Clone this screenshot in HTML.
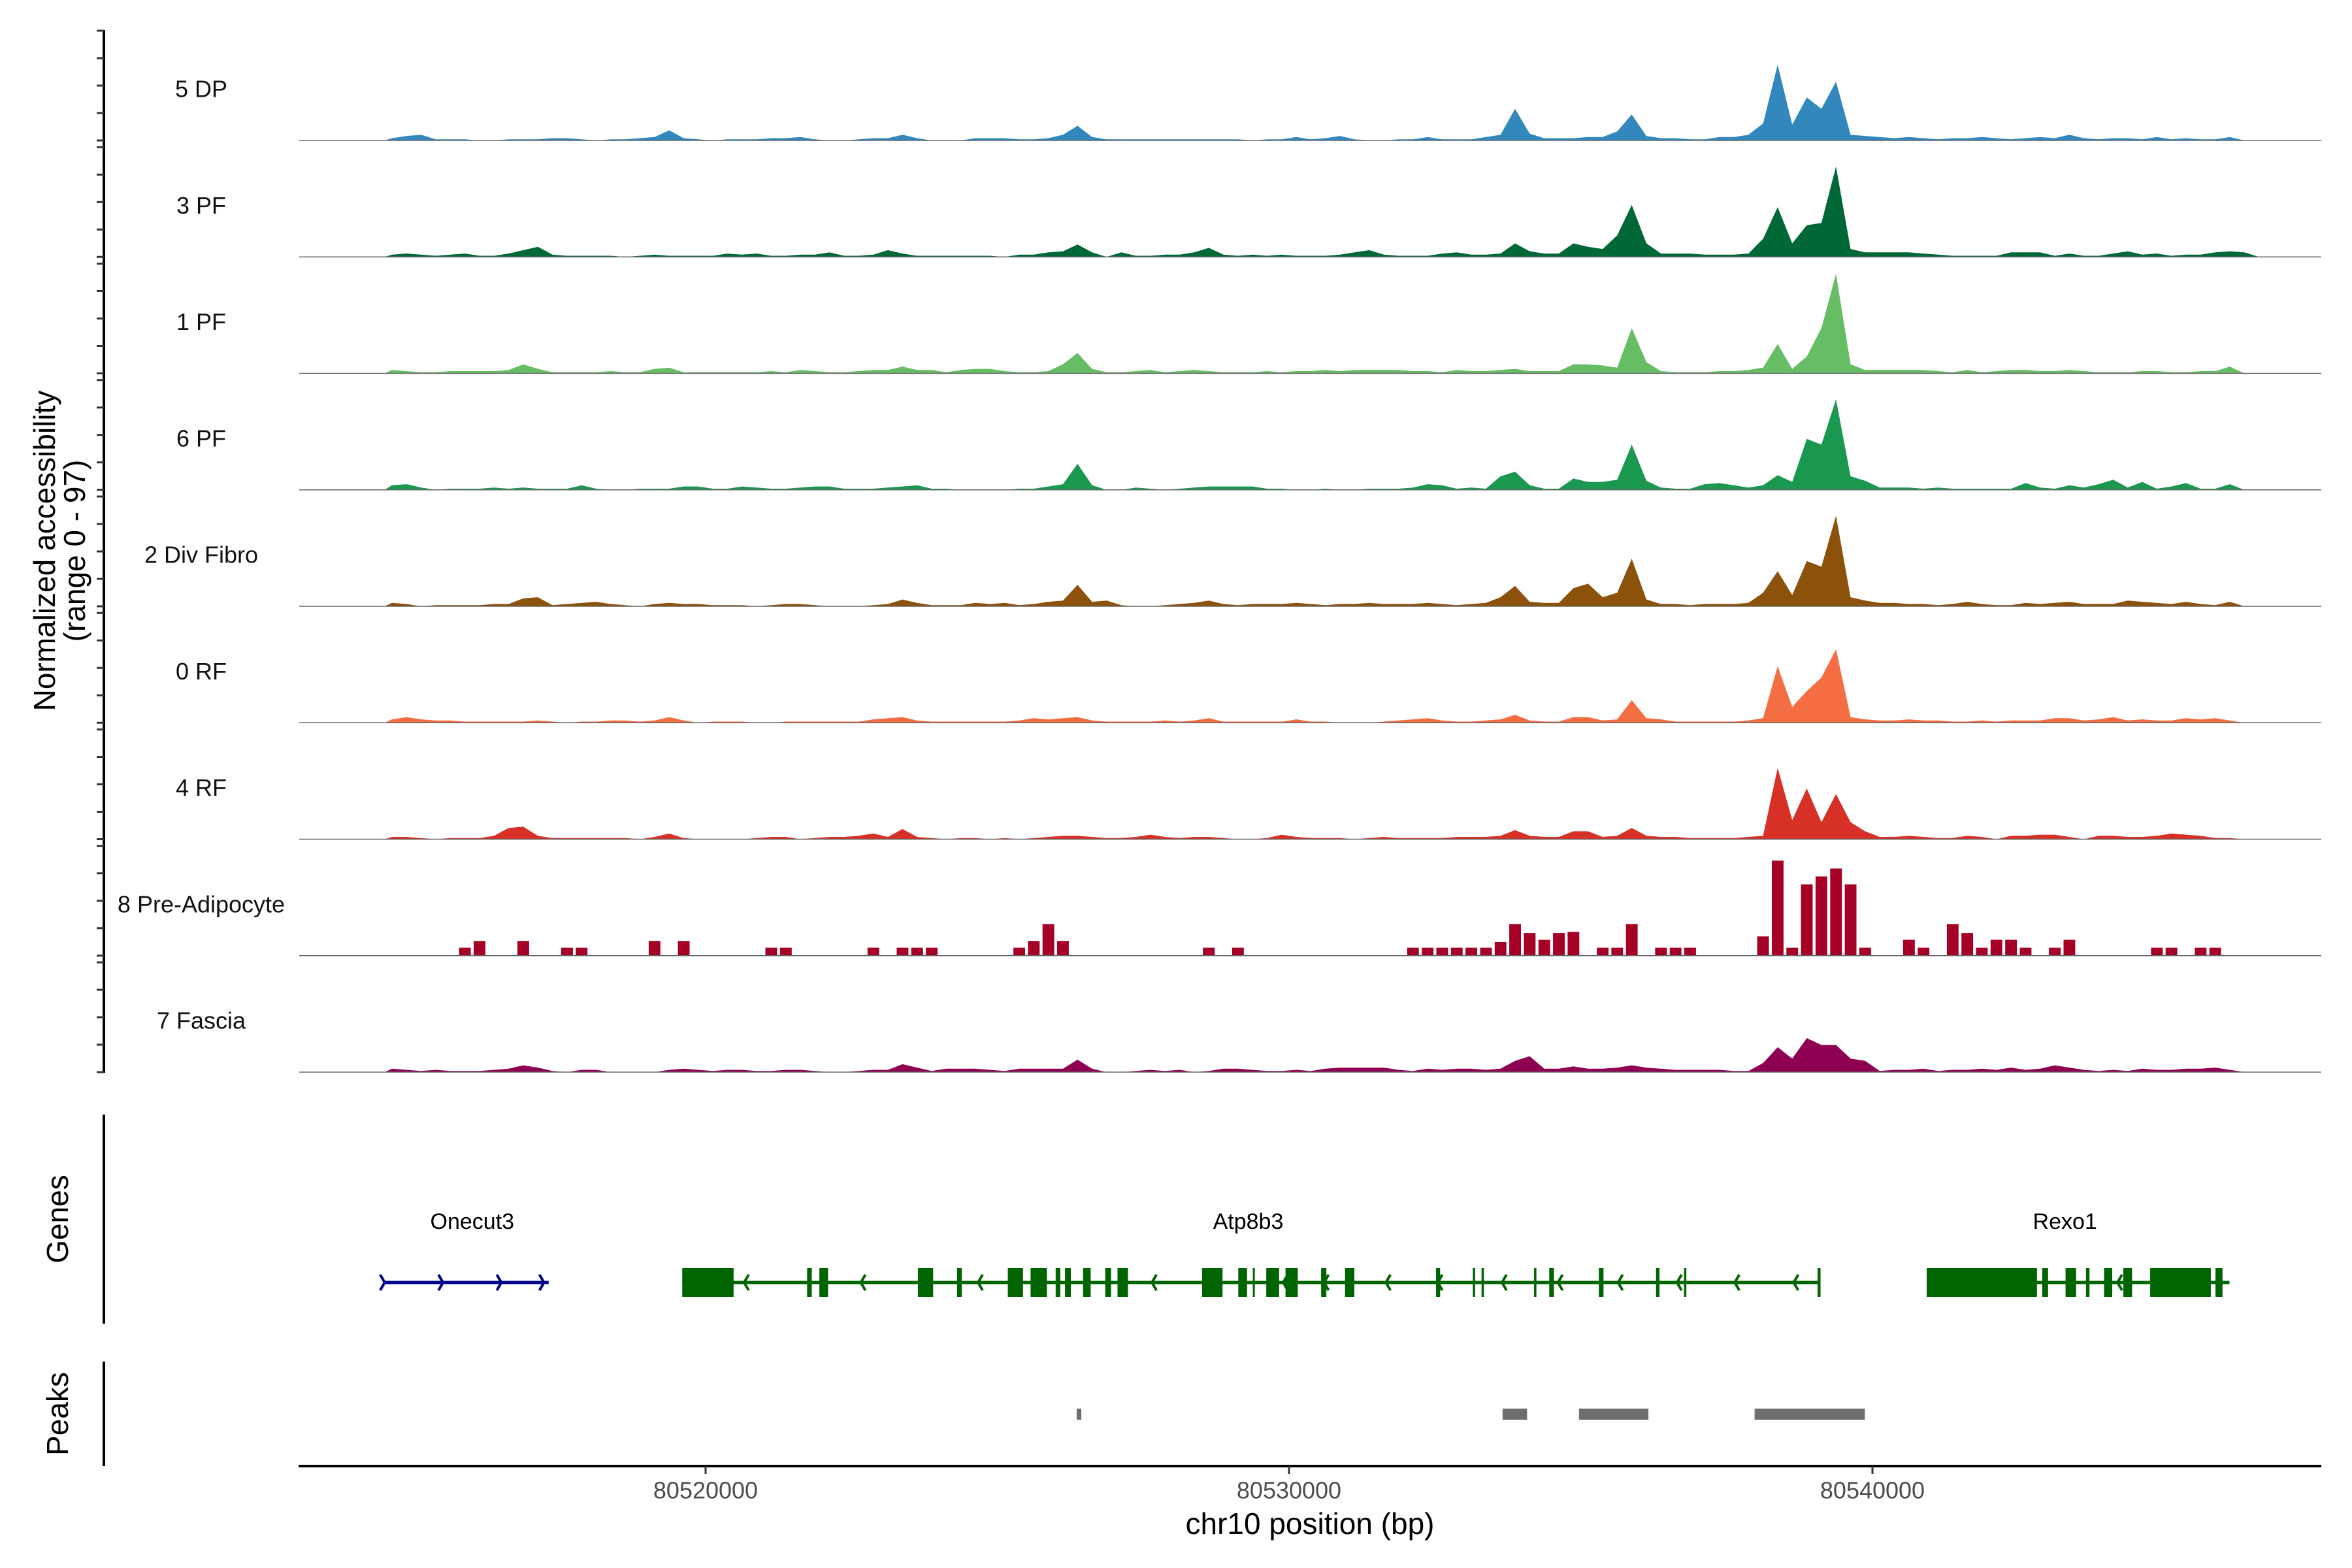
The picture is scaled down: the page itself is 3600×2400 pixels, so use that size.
<!DOCTYPE html>
<html><head><meta charset="utf-8"><style>
html,body{margin:0;padding:0;background:#fff;}
svg{display:block;font-family:"Liberation Sans",Arial,sans-serif;}
</style></head><body>
<svg id="chart" width="3600" height="2400" viewBox="0 0 3600 2400" xmlns="http://www.w3.org/2000/svg">
<rect width="3600" height="2400" fill="#fff"/>
<g id="tracks"></g>
<g id="genes"></g>
<g id="peaks"></g>
<g id="axes"></g>
</svg>
<script>
// ---- data (bins of 250 bp starting at 80514500) ----
const binStartKb = 14.5;
const binKb = 0.25;
const trackNames = ["5 DP","3 PF","1 PF","6 PF","2 Div Fibro","0 RF","4 RF","8 Pre-Adipocyte","7 Fascia"];
const trackColors = ["#3288bd","#006837","#66bd63","#1a9850","#8c510a","#f46d43","#d73027","#a50026","#8e0152"];
const dp5 = [2,4,5,1,1,1,0,0,1,1,1,2,2,1,0,1,1,2,3,9,2,1,0,1,1,1,2,2,3,1,0,0,1,2,2,5,2,0,0,0,2,2,2,1,1,2,5,13,3,1,1,1,1,1,1,1,1,1,1,0,1,1,3,1,2,4,1,0,0,1,1,3,1,1,
 1,3,5,28,6,2,2,2,3,3,8,23,4,2,2,1,1,3,3,5,15,67,14,38,28,52,5,4,3,
 2,3,2,1,2,2,3,2,1,2,3,2,5,2,1,2,2,1,3,1,2,1,1,3,0];
const pf3 = [2,3,2,1,2,3,1,1,3,6,9,2,1,1,1,1,0,1,2,1,1,1,1,3,2,3,1,1,2,2,4,1,1,2,6,3,1,1,1,1,1,1,0,2,2,4,5,11,4,0,4,1,1,2,2,4,8,2,1,2,1,2,1,1,1,2,4,6,2,1,1,1,3,4,
 2,2,3,12,5,3,3,12,9,7,19,46,12,3,3,3,2,2,2,3,16,44,12,28,30,80,7,4,4,
 4,4,3,2,1,1,1,1,4,4,4,1,3,1,1,3,5,2,3,1,2,2,4,5,4,0];
const pf1 = [3,2,1,1,2,2,2,2,3,8,4,1,1,1,1,2,1,1,4,5,1,1,1,1,1,1,2,1,3,2,1,1,2,3,3,6,3,3,1,3,4,4,2,1,1,2,8,18,4,1,1,2,3,1,2,3,2,1,1,1,2,1,2,2,3,2,3,3,3,3,2,2,1,3,
 2,2,3,4,2,2,2,8,8,7,5,40,10,2,1,1,1,2,2,3,5,26,4,15,40,88,8,3,3,
 3,3,3,2,1,3,1,2,3,3,2,2,3,2,1,1,1,2,2,1,1,2,2,6,0];
const pf6 = [4,5,2,0,1,1,1,2,1,2,1,1,1,4,1,0,0,1,1,1,3,3,1,1,3,2,1,1,2,3,3,1,1,1,2,3,4,1,1,0,0,0,0,1,1,3,5,23,4,0,0,2,1,0,1,2,3,3,3,3,1,1,0,0,1,0,0,1,1,1,2,5,4,1,
 2,1,12,16,4,1,1,10,7,7,9,40,8,2,1,1,5,6,4,2,4,13,7,45,40,80,12,8,2,
 2,2,1,2,1,1,1,1,1,6,2,1,4,2,5,9,2,7,1,3,6,1,1,5,0];
const div2 = [3,2,0,1,1,1,1,2,2,7,8,1,2,3,4,2,1,0,2,3,2,2,1,1,1,0,1,2,2,1,0,0,0,1,2,6,3,1,1,1,3,2,3,1,2,4,5,19,4,5,1,0,0,1,2,3,5,2,1,2,2,2,3,2,1,2,2,3,2,2,2,3,2,1,
 2,3,8,18,4,3,3,16,20,8,12,42,6,2,2,1,2,2,2,3,12,31,10,40,35,80,8,5,3,
 3,2,2,1,2,4,2,1,1,3,2,3,4,2,2,2,5,4,3,2,4,2,1,4,0];
const rf0 = [3,5,3,2,2,1,1,1,1,1,2,1,0,1,1,2,2,1,2,5,2,0,1,1,1,0,0,1,1,1,1,1,1,3,4,5,2,1,1,1,1,1,1,2,4,3,4,5,2,1,1,1,1,2,1,2,4,1,1,1,1,1,3,1,1,0,0,0,1,2,3,4,2,1,
 1,2,3,7,2,1,1,5,5,2,3,20,4,3,1,1,1,1,1,2,4,50,14,28,40,65,5,3,2,
 2,3,2,2,1,1,2,1,2,2,2,4,4,2,3,5,2,3,2,2,4,3,4,2,0];
const rf4 = [2,2,1,0,1,1,1,3,10,11,3,1,1,1,1,1,1,0,2,5,1,0,0,0,0,1,2,2,0,1,2,2,3,5,2,9,2,1,0,1,1,0,1,0,1,2,3,3,2,1,1,2,4,2,1,2,2,1,0,0,1,4,2,1,1,1,0,1,2,1,1,1,1,2,
 2,2,3,8,3,2,2,7,7,2,3,10,3,2,2,1,1,1,1,2,3,63,17,45,15,40,15,7,2,
 2,3,2,1,1,3,2,0,3,3,4,4,2,0,3,3,2,2,3,5,4,3,1,1,0];
const preAd8 = [0,0,0,0,0,7,13,0,0,13,0,0,7,7,0,0,0,0,13,0,13,0,0,0,0,0,7,7,0,0,0,0,0,7,0,7,7,7,0,0,0,0,0,7,13,28,13,0,0,0,0,0,0,0,0,0,7,0,7,0,0,0,0,0,0,0,0,0,0,0,7,7,7,7,
 7,7,12,28,20,14,20,21,0,7,7,28,0,7,7,7,0,0,0,0,17,84,7,63,70,77,63,7,0,
 0,14,7,0,28,20,7,14,14,7,0,7,14,0,0,0,0,0,7,7,0,7,7,0,0];
const fascia7 = [3,2,1,2,1,1,1,2,3,6,4,1,0,2,2,0,0,0,0,2,3,2,1,2,2,1,1,2,2,1,0,0,1,2,2,7,4,1,3,3,3,2,1,3,3,3,3,11,3,0,0,1,2,1,2,0,1,3,3,2,1,1,2,1,3,4,4,4,4,2,1,3,2,3,
 3,2,3,10,14,3,3,5,3,3,4,6,4,3,2,2,2,2,1,1,8,22,12,30,24,24,12,10,1,
 2,2,3,1,2,2,3,2,4,2,3,6,4,2,1,2,1,3,2,2,3,3,4,2,0];
const trackValues = [dp5,pf3,pf1,pf6,div2,rf0,rf4,preAd8,fascia7];
const xTickValues = [80520000,80530000,80540000];
const xTickLabels = ["80520000","80530000","80540000"];
// genes (kb offsets from 80500000)
const onecut3Span = [14.50,17.31];
const onecut3Arrows = [14.5,15.5,16.5,17.23];
const atp8b3Span = [19.60,39.11];
const atp8b3Exons = [[19.60,20.48],[21.74,21.82],[21.95,22.10],[23.64,23.90],[24.31,24.39],[25.18,25.44],[25.57,25.85],[26.00,26.08],[26.16,26.26],[26.47,26.60],[26.85,26.95],[27.06,27.24],[28.51,28.86],[29.13,29.28],[29.38,29.41],[29.61,29.83],[29.94,30.15],[30.55,30.64],[30.96,31.12],[32.52,32.59],[33.15,33.19],[33.30,33.34],[34.20,34.24],[34.46,34.54],[35.31,35.39],[36.29,36.35],[36.77,36.81],[39.06,39.11]];
const atp8b3Arrows = [20.66,22.66,24.67,27.65,28.7,29.9,30.6,31.66,32.55,33.65,34.61,35.64,36.65,37.64,38.65];
const rexo1Span = [40.93,46.12];
const rexo1Exons = [[40.93,42.82],[42.91,43.01],[43.31,43.49],[43.66,43.72],[43.97,44.11],[44.30,44.45],[44.76,45.80],[45.88,46.00]];
const peakRegions = [[26.36,26.44],[33.66,34.08],[34.97,36.16],[37.98,39.87]];

// ---- scales ----
const NS = "http://www.w3.org/2000/svg";
function xKb(kb){ return 1080 + (kb - 20) * 89.3; }
function xBp(bp){ return xKb((bp - 80500000) / 1000); }
function baseY(i){ return 215 + 178.25 * i; }
const pxPerUnit = 168 / 97;
function yVal(i, v){ return baseY(i) - v * pxPerUnit; }
function mk(tag, attrs, parent){ const e = document.createElementNS(NS, tag); for (const k in attrs) e.setAttribute(k, attrs[k]); parent.appendChild(e); return e; }

const gTracks = document.getElementById('tracks');
const gAxes = document.getElementById('axes');
const gGenes = document.getElementById('genes');
const gPeaks = document.getElementById('peaks');

let ax = mk('line', {x1:159, y1:46, x2:159, y2:1642, stroke:'#000', 'stroke-width':4}, gAxes);



trackValues.forEach((vals, i) => {
  const g = mk('g', {}, gTracks);
  
  
  const b = baseY(i);
  for (let k = 0; k <= 4; k++) {
    const t = mk('line', {x1:148, x2:159, y1:b - k * 42, y2:b - k * 42, stroke:'#333', 'stroke-width':3}, gAxes);
    
    
  }
  if (i === 7) {
    vals.forEach((v, j) => {
      if (v <= 0) return;
      const x0 = xKb(binStartKb + (j + 0.1) * binKb), x1 = xKb(binStartKb + (j + 0.9) * binKb);
      const r = mk('rect', {x:x0.toFixed(1), y:yVal(i, v).toFixed(1), width:(x1 - x0).toFixed(1), height:(v * pxPerUnit).toFixed(1), fill:trackColors[i]}, g);
      
      
    });
  } else {
    let d = 'M' + xKb(binStartKb) + ',' + b;
    vals.forEach((v, j) => {
      const xc = xKb(binStartKb + (j + 0.5) * binKb);
      d += ' L' + xc.toFixed(1) + ',' + yVal(i, v).toFixed(1);
    });
    d += ' L' + xKb(binStartKb + vals.length * binKb).toFixed(1) + ',' + b + ' Z';
    const p = mk('path', {d:d, fill:trackColors[i]}, g);
    
    
  }
  const bl = mk('line', {x1:458, x2:3553, y1:b, y2:b, stroke:'#666', 'stroke-width':1.6}, g);
  
  
  const lab = mk('text', {x:308, y:b - 79, 'font-size':36, 'text-anchor':'middle', 'dominant-baseline':'central', fill:'#111'}, g);
  lab.textContent = trackNames[i];
  
  
});

const yt = mk('text', {'font-size':46, 'text-anchor':'middle', fill:'#000'}, gAxes);


const yt1 = mk('tspan', {x:0, y:0}, yt); yt1.textContent = 'Normalized accessibility';
const yt2 = mk('tspan', {x:0, y:46}, yt); yt2.textContent = '(range 0 - 97)';
yt.setAttribute('transform', 'translate(84,843) rotate(-90)');

let ga = mk('line', {x1:159, x2:159, y1:1706, y2:2026, stroke:'#000', 'stroke-width':4}, gAxes);


let pa = mk('line', {x1:159, x2:159, y1:2084, y2:2244, stroke:'#000', 'stroke-width':4}, gAxes);


let gl = mk('text', {'font-size':46, 'text-anchor':'middle', transform:'translate(104,1866) rotate(-90)'}, gAxes);
gl.textContent = 'Genes';


let pl = mk('text', {'font-size':46, 'text-anchor':'middle', transform:'translate(104,2164) rotate(-90)'}, gAxes);
pl.textContent = 'Peaks';



const geneY = 1963;
function chevron(kb, dir, color, parent){
  const x = xKb(kb);
  const c = mk('polyline', {points: (x + 7*dir) + ',' + (geneY - 12) + ' ' + x + ',' + geneY + ' ' + (x + 7*dir) + ',' + (geneY + 12), fill:'none', stroke:color, 'stroke-width':4}, parent);
  
  
}
function gene(name, span, exons, arrows, dir, color, labelKb){
  const g = mk('g', {}, gGenes);
  
  
  const l = mk('line', {x1:xKb(span[0]), x2:xKb(span[1]), y1:geneY, y2:geneY, stroke:color, 'stroke-width':5}, g);
  
  
  exons.forEach(e => {
    const r = mk('rect', {x:xKb(e[0]), y:geneY - 22, width:Math.max(3, xKb(e[1]) - xKb(e[0])), height:44, fill:color}, g);
    
    
  });
  arrows.forEach(a => chevron(a, dir, color, g));
  const t = mk('text', {x:xKb(labelKb), y:1870, 'font-size':34, 'text-anchor':'middle', 'dominant-baseline':'central', fill:'#000'}, g);
  t.textContent = name;
  
  
}
gene('Onecut3', onecut3Span, [], onecut3Arrows, -1, '#00008b', 16.0);
gene('Atp8b3', atp8b3Span, atp8b3Exons, atp8b3Arrows, 1, '#006400', 29.3);
gene('Rexo1', rexo1Span, rexo1Exons, [44.2], 1, '#006400', 43.3);

peakRegions.forEach(pk => {
  const r = mk('rect', {x:xKb(pk[0]), y:2156, width:Math.max(6, xKb(pk[1]) - xKb(pk[0])), height:17, fill:'#6e6e6e'}, gPeaks);
  
  
});

let xl = mk('line', {x1:457, x2:3553, y1:2244, y2:2244, stroke:'#000', 'stroke-width':4}, gAxes);


xTickValues.forEach((v, i) => {
  const x = xBp(v);
  const t = mk('line', {x1:x, x2:x, y1:2244, y2:2256, stroke:'#333', 'stroke-width':3}, gAxes);
  
  
  const lb = mk('text', {x:x, y:2281, 'font-size':36, 'text-anchor':'middle', 'dominant-baseline':'central', fill:'#4d4d4d'}, gAxes);
  lb.textContent = xTickLabels[i];
  
  
});
let xt = mk('text', {x:2005, y:2332, 'font-size':46, 'text-anchor':'middle', 'dominant-baseline':'central', fill:'#000'}, gAxes);
xt.textContent = 'chr10 position (bp)';


</script>
</body></html>
